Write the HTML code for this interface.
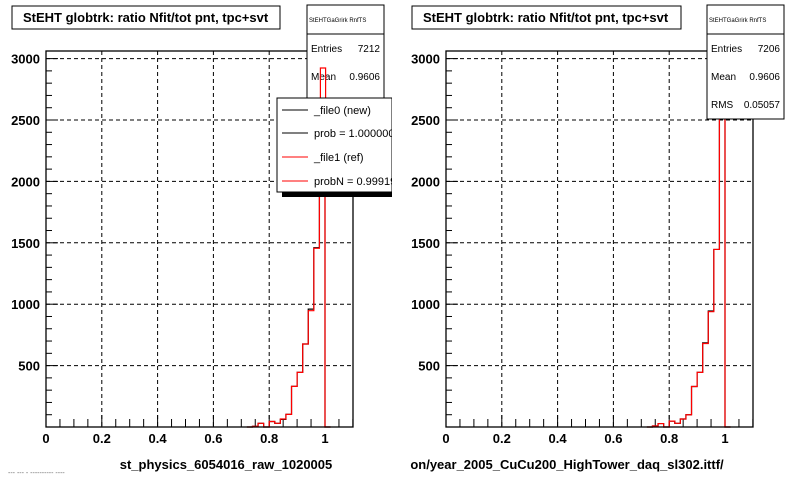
<!DOCTYPE html>
<html><head><meta charset="utf-8"><style>
body{margin:0;background:#fff;}
svg{display:block;font-family:"Liberation Sans",Arial,sans-serif;}
.tl{font-size:13px;font-weight:bold;}
</style></head><body>
<svg id="c" width="800" height="480" viewBox="0 0 800 480"></svg>
<script>
const yTicks=[500,1000,1500,2000,2500,3000];
const xTicks=[0,0.2,0.4,0.6,0.8,1];
const xTickLabels=["0","0.2","0.4","0.6","0.8","1"];
const binStart=0.72, binWidth=0.02;
const leftRefVals=[0,5,30,0,45,30,65,103,331,445,676,947,1455,2924,0];
const leftNewVals=[0,5,30,0,45,30,62,103,331,445,676,960,1460,2924,0];
const rightRefVals=[0,8,28,0,48,30,65,100,330,445,680,939,1446,3200,0];
const rightNewVals=[0,8,28,0,48,30,65,100,330,445,685,945,1446,3200,0];
const NS="http://www.w3.org/2000/svg";
const svg=document.getElementById('c');
function mk(t,a,p){const e=document.createElementNS(NS,t);for(const k in a)e.setAttribute(k,a[k]);(p||svg).appendChild(e);return e;}
function panel(px0,frameL,frameR,newV,refV,name,xtitle,xtitleX){
  const g=mk('g',{});
  
  
  const top=51,bot=427,xs=279;
  const X=v=>px0+v*xs, Y=v=>Math.max(top,bot-v*0.1228);
  yTicks.forEach(t=>{const l=mk('line',{x1:frameL,x2:frameR,y1:Y(t),y2:Y(t),stroke:'#000','stroke-dasharray':'4,3','stroke-width':1},g);
    });
  xTicks.forEach(t=>{if(t===0)return;const l=mk('line',{x1:X(t),x2:X(t),y1:top,y2:bot,stroke:'#000','stroke-dasharray':'4,3','stroke-width':1},g);
    });
  for(let i=1;i<=22;i++){const v=i*0.05;if(X(v)>frameR)break;const big=i%4===0;
    mk('line',{x1:X(v),x2:X(v),y1:bot,y2:bot-(big?12:8),stroke:'#000'},g);}
  for(let v=100;v<=3000;v+=100){const big=v%500===0;mk('line',{x1:frameL,x2:frameL+(big?12:6),y1:Y(v),y2:Y(v),stroke:'#000'},g);}
  function hist(vals,col,nm){let d='M'+X(binStart)+','+bot;vals.forEach((v,i)=>{const x0=X(binStart+i*binWidth),x1=X(binStart+(i+1)*binWidth);d+=' L'+x0+','+Y(v)+' L'+x1+','+Y(v);});d+=' L'+X(binStart+vals.length*binWidth)+','+bot;
    const p=mk('path',{d:d,fill:'none',stroke:col,'stroke-width':1.2},g);}
  hist(newV,'#000','hist-new');hist(refV,'#f00','hist-ref');
  const f=mk('rect',{x:frameL,y:top,width:frameR-frameL,height:bot-top,fill:'none',stroke:'#000','stroke-width':1.3},g);
  
  yTicks.forEach(t=>{const e=mk('text',{x:frameL-6,y:Y(t)+5,'text-anchor':'end',class:'tl'},g);e.textContent=t;
    });
  xTicks.forEach((t,i)=>{const e=mk('text',{x:X(t),y:443,'text-anchor':'middle',class:'tl'},g);e.textContent=xTickLabels[i];
    });
  const xt=mk('text',{x:xtitleX,y:469,'text-anchor':'middle',class:'tl'},g);xt.textContent=xtitle;
  
}
panel(46,46,353,leftNewVals,leftRefVals,'left-panel','st_physics_6054016_raw_1020005',226);
panel(446,446,753,rightNewVals,rightRefVals,'right-panel','on/year_2005_CuCu200_HighTower_daq_sl302.ittf/',567);
</script>
<svg width="800" height="480" style="position:absolute;left:0;top:0" font-family="Liberation Sans, Arial, sans-serif">
<g><rect x="12" y="6" width="268" height="23" fill="#fff" stroke="#000"/><text x="23" y="22" font-size="13" font-weight="bold">StEHT globtrk: ratio Nfit/tot pnt, tpc+svt</text></g>
<g><rect x="412" y="6" width="269" height="23" fill="#fff" stroke="#000"/><text x="423" y="22" font-size="13" font-weight="bold">StEHT globtrk: ratio Nfit/tot pnt, tpc+svt</text></g>
<g><rect x="307" y="5" width="77" height="120" fill="#fff" stroke="#000"/><line x1="307" y1="34" x2="384" y2="34" stroke="#000"/>
<text x="309" y="22" font-size="6">StEHTGaGrirk RnfTS</text><text x="311" y="52" font-size="10">Entries</text><text x="380" y="52" font-size="10" text-anchor="end">7212</text><text x="311" y="80" font-size="10">Mean</text><text x="380" y="80" font-size="10" text-anchor="end">0.9606</text></g>
<g><path d="M320.4,125 L320.4,68 L325.6,68 L325.6,125" fill="none" stroke="#f00" stroke-width="1.2"/></g>
<g><rect x="282" y="102" width="112" height="95" fill="#000"/><rect x="277" y="98" width="115" height="94" fill="#fff" stroke="#000"/>
<line x1="282" y1="110" x2="308" y2="110" stroke="#000"/><text x="314" y="114" font-size="11">_file0 (new)</text>
<line x1="282" y1="133" x2="308" y2="133" stroke="#000"/><text x="314" y="137" font-size="11">prob = 1.000000</text>
<line x1="282" y1="157" x2="308" y2="157" stroke="#f00"/><text x="314" y="161" font-size="11">_file1 (ref)</text>
<line x1="282" y1="181" x2="308" y2="181" stroke="#f00"/><text x="314" y="185" font-size="11">probN = 0.99919</text></g>
<rect x="392" y="95" width="10" height="105" fill="#fff"/>
<g><rect x="707" y="5" width="77" height="114" fill="#fff" stroke="#000"/><line x1="707" y1="34" x2="784" y2="34" stroke="#000"/>
<text x="709" y="22" font-size="6">StEHTGaGrirk RnfTS</text><text x="711" y="52" font-size="10">Entries</text><text x="780" y="52" font-size="10" text-anchor="end">7206</text><text x="711" y="80" font-size="10">Mean</text><text x="780" y="80" font-size="10" text-anchor="end">0.9606</text><text x="711" y="108" font-size="10">RMS</text><text x="780" y="108" font-size="10" text-anchor="end">0.05057</text></g>
<text x="8" y="475" font-size="7" fill="#666">--- ---  -  ---------- ----</text>
</svg>
</body></html>
